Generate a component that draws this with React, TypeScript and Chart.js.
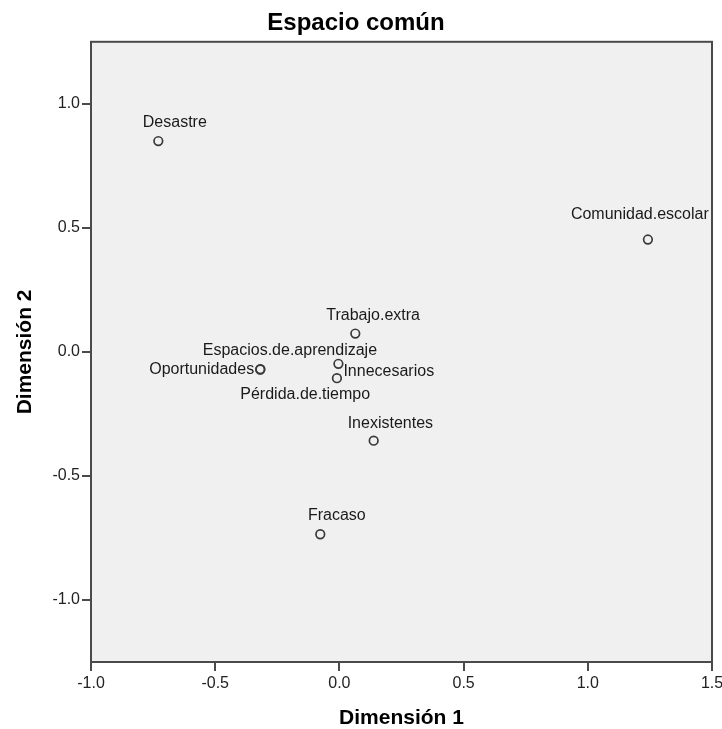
import React, { useEffect, useRef } from "react";
import { Chart, registerables } from "chart.js";

Chart.register(...registerables);

const pointNames = [
  "Desastre",
  "Comunidad.escolar",
  "Trabajo.extra",
  "Espacios.de.aprendizaje",
  "Oportunidades",
  "Innecesarios",
  "Pérdida.de.tiempo",
  "Inexistentes",
  "Fracaso",
];
const dim1 = [-0.729, 1.242, 0.064, -0.318, -0.319, -0.004, -0.01, 0.138, -0.077];
const dim2 = [0.85, 0.453, 0.074, -0.07, -0.071, -0.048, -0.106, -0.358, -0.735];
const xTicks = [-1.0, -0.5, 0.0, 0.5, 1.0, 1.5];
const yTicks = [-1.0, -0.5, 0.0, 0.5, 1.0];

// label placement (style only): [dx, dy, align]
const labelStyle: Record<string, [number, number, CanvasTextAlign]> = {
  Desastre: [-15.5, -18.5, "left"],
  "Comunidad.escolar": [-77, -25, "left"],
  "Trabajo.extra": [-29, -18.3, "left"],
  "Espacios.de.aprendizaje": [29.5, -18.2, "center"],
  Oportunidades: [-6, 0, "right"],
  Innecesarios: [5, 7.5, "left"],
  "Pérdida.de.tiempo": [-31.7, 16.3, "center"],
  Inexistentes: [-26, -17.5, "left"],
  Fracaso: [-12.3, -18.3, "left"],
};

const FONT = "'Liberation Sans', Arial, sans-serif";
const AXIS = "#4a4a4a";

const framePlugin = {
  id: "frame",
  beforeDraw(chart: any) {
    const { ctx, chartArea: a } = chart;
    ctx.save();
    ctx.fillStyle = "#f0f0f0";
    ctx.fillRect(a.left, a.top, a.right - a.left, a.bottom - a.top);
    ctx.restore();
  },
  afterDraw(chart: any) {
    const { ctx, chartArea: a } = chart;
    ctx.save();
    ctx.strokeStyle = AXIS;
    ctx.lineWidth = 2;
    ctx.strokeRect(a.left, a.top, a.right - a.left, a.bottom - a.top);
    ctx.restore();
  },
};

const labelPlugin = {
  id: "pointLabels",
  afterDatasetsDraw(chart: any) {
    const { ctx } = chart;
    const meta = chart.getDatasetMeta(0);
    ctx.save();
    ctx.font = `16px ${FONT}`;
    ctx.fillStyle = "#1a1a1a";
    ctx.textBaseline = "middle";
    meta.data.forEach((el: any, i: number) => {
      const name = pointNames[i];
      const [dx, dy, align] = labelStyle[name];
      ctx.textAlign = align;
      ctx.fillText(name, el.x + dx, el.y + dy);
    });
    ctx.restore();
  },
};

export default function App() {
  const ref = useRef<HTMLCanvasElement>(null);
  useEffect(() => {
    document.body.style.margin = "0";
    const chart = new Chart(ref.current!, {
      type: "scatter",
      data: {
        datasets: [
          {
            data: dim1.map((x, i) => ({ x, y: dim2[i] })),
            pointStyle: "circle",
            pointRadius: 4.3,
            pointBorderWidth: 1.7,
            borderColor: "#3a3a3a",
            backgroundColor: "rgba(0,0,0,0)",
          },
        ],
      },
      options: {
        animation: false,
        responsive: false,
        layout: { padding: { top: 0, right: 10, left: 0, bottom: 0 } },
        plugins: {
          legend: { display: false },
          tooltip: { enabled: false },
          title: {
            display: true,
            text: "Espacio común",
            color: "#000",
            font: { family: FONT, size: 24, weight: "bold", lineHeight: 1.2 },
            padding: { top: 9, bottom: 4 },
          },
        },
        scales: {
          x: {
            type: "linear",
            min: -1.0,
            max: 1.5,
            afterBuildTicks: (s: any) => {
              s.ticks = xTicks.map((v) => ({ value: v }));
            },
            ticks: {
              color: "#222",
              font: { family: FONT, size: 16 },
              padding: 3,
              maxRotation: 0,
              callback: (v: any) => Number(v).toFixed(1),
            },
            grid: { drawOnChartArea: false, drawTicks: true, tickLength: 9, color: AXIS, lineWidth: 2 },
            border: { display: false },
            title: {
              display: true,
              text: "Dimensión 1",
              color: "#000",
              font: { family: FONT, size: 21, weight: "bold", lineHeight: 1 },
              padding: { top: 0, bottom: 0 },
            },
            afterFit: (s: any) => {
              s.height = 67;
              s.paddingLeft = 0;
              s.paddingRight = 0;
            },
          },
          y: {
            type: "linear",
            min: -1.25,
            max: 1.25,
            afterBuildTicks: (s: any) => {
              s.ticks = yTicks.map((v) => ({ value: v }));
            },
            ticks: {
              color: "#222",
              font: { family: FONT, size: 16 },
              padding: 2,
              callback: (v: any) => Number(v).toFixed(1),
            },
            grid: { drawOnChartArea: false, drawTicks: true, tickLength: 9, color: AXIS, lineWidth: 2 },
            border: { display: false },
            title: {
              display: true,
              text: "Dimensión 2",
              color: "#000",
              font: { family: FONT, size: 21, weight: "bold", lineHeight: 1 },
              padding: { top: 15, bottom: 0 },
            },
            afterFit: (s: any) => {
              s.width = 91;
              s.paddingTop = 0;
              s.paddingBottom = 0;
            },
          },
        },
      },
      plugins: [framePlugin, labelPlugin],
    });
    return () => chart.destroy();
  }, []);
  return <canvas ref={ref} width={722} height={729} style={{ display: "block" }} />;
}
